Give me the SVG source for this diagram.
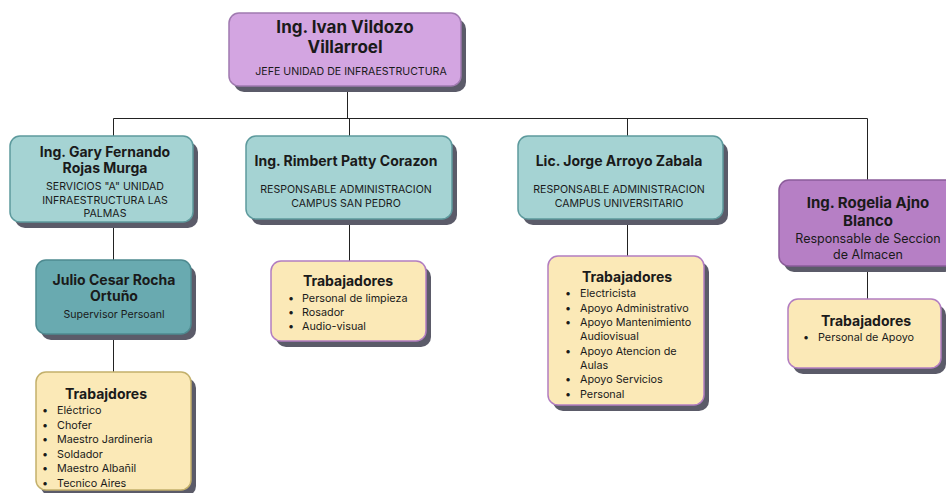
<svg xmlns="http://www.w3.org/2000/svg" width="946" height="493" viewBox="0 0 946 493">
  <style>
    text { font-family: Inter, "Noto Sans", "Liberation Sans", sans-serif; fill: #1a1a1a; }
    .shadow { fill: #5b5b69; }
    .head { fill: #d3a5e1; stroke: #a07ab0; stroke-width: 1.5; }
    .teal { fill: #a5d3d3; stroke: #5d9a9d; stroke-width: 1.5; }
    .tealdark { fill: #69aab0; stroke: #4e8a90; stroke-width: 1.5; }
    .purple { fill: #b67fc5; stroke: #8b5c9a; stroke-width: 1.5; }
    .note { fill: #fbe9b7; stroke: #b27dc1; stroke-width: 1.5; }
    .note-olive { fill: #fbe9b7; stroke: #c3b06b; stroke-width: 1.5; }
    .t1 { font-size: 17px; font-weight: 700; text-anchor: middle; }
    .t2 { font-size: 14px; font-weight: 700; text-anchor: middle; }
    .t3 { font-size: 15px; font-weight: 700; text-anchor: middle; }
    .sub { font-size: 10.6px; text-anchor: middle; }
    .sub2 { font-size: 12.5px; text-anchor: middle; }
    .item { font-size: 10.8px; }
    .conn { fill: none; stroke: #222; stroke-width: 1; }
  </style>

  <!-- connectors -->
  <g id="connectors" class="conn">
    <path d="M347.5 86 V118.5 M113.5 118.5 H867.5 M113.5 118.5 V136 M349.5 118.5 V136 M627.5 118.5 V136 M867.5 118.5 V180"/>
    <path d="M113.5 222 V260 M113.5 334 V372"/>
    <path d="M349.5 219 V261"/>
    <path d="M627.5 219 V256"/>
    <path d="M867.5 266 V299"/>
  </g>

  <!-- head of unit -->
  <g id="jefe">
    <rect class="shadow" x="234" y="19" width="232" height="73" rx="10"/>
    <rect class="head" x="229" y="13" width="232" height="73" rx="10"/>
    <text class="t1" x="345" y="33">Ing. Ivan Vildozo</text>
    <text class="t1" x="345" y="53">Villarroel</text>
    <text class="sub" x="351" y="75">JEFE UNIDAD DE INFRAESTRUCTURA</text>
  </g>

  <g id="gary">
    <rect class="shadow" x="15" y="142" width="183" height="86" rx="10"/>
    <rect class="teal" x="10" y="136" width="183" height="86" rx="10"/>
    <text class="t2" x="105" y="157">Ing. Gary Fernando</text>
    <text class="t2" x="105" y="173">Rojas Murga</text>
    <text class="sub" x="105" y="190">SERVICIOS "A" UNIDAD</text>
    <text class="sub" x="105" y="203.5">INFRAESTRUCTURA LAS</text>
    <text class="sub" x="105" y="217">PALMAS</text>
  </g>

  <g id="julio">
    <rect class="shadow" x="41" y="266" width="155" height="74" rx="10"/>
    <rect class="tealdark" x="36" y="260" width="155" height="74" rx="10"/>
    <text class="t2" x="114" y="285">Julio Cesar Rocha</text>
    <text class="t2" x="114" y="301">Ortuño</text>
    <text class="sub" x="114" y="318">Supervisor Persoanl</text>
  </g>

  <g id="trabajadores-palmas">
    <rect class="shadow" x="41" y="378" width="155" height="118" rx="10"/>
    <rect class="note-olive" x="36" y="372" width="155" height="118" rx="10"/>
    <text class="t2" x="106" y="399">Trabajdores</text>
    <g class="item">
      <text x="42" y="414">•</text><text x="57" y="414">Eléctrico</text>
      <text x="42" y="428.5">•</text><text x="57" y="428.5">Chofer</text>
      <text x="42" y="443">•</text><text x="57" y="443">Maestro Jardineria</text>
      <text x="42" y="457.5">•</text><text x="57" y="457.5">Soldador</text>
      <text x="42" y="472">•</text><text x="57" y="472">Maestro Albañil</text>
      <text x="42" y="486.5">•</text><text x="57" y="486.5">Tecnico Aires</text>
    </g>
  </g>

  <g id="rimbert">
    <rect class="shadow" x="251" y="142" width="206" height="83" rx="10"/>
    <rect class="teal" x="246" y="136" width="206" height="83" rx="10"/>
    <text class="t2" x="346" y="166">Ing. Rimbert Patty Corazon</text>
    <text class="sub" x="346" y="193">RESPONSABLE ADMINISTRACION</text>
    <text class="sub" x="346" y="207">CAMPUS SAN PEDRO</text>
  </g>

  <g id="trabajadores-san-pedro">
    <rect class="shadow" x="276" y="267" width="155" height="80" rx="10"/>
    <rect class="note" x="271" y="261" width="155" height="80" rx="10"/>
    <text class="t2" x="348" y="286">Trabajadores</text>
    <g class="item">
      <text x="288" y="302">•</text><text x="302" y="302">Personal de limpieza</text>
      <text x="288" y="316">•</text><text x="302" y="316">Rosador</text>
      <text x="288" y="330">•</text><text x="302" y="330">Audio-visual</text>
    </g>
  </g>

  <g id="jorge">
    <rect class="shadow" x="523" y="142" width="205" height="83" rx="10"/>
    <rect class="teal" x="518" y="136" width="205" height="83" rx="10"/>
    <text class="t2" x="619" y="166">Lic. Jorge Arroyo Zabala</text>
    <text class="sub" x="619" y="193">RESPONSABLE ADMINISTRACION</text>
    <text class="sub" x="619" y="207">CAMPUS UNIVERSITARIO</text>
  </g>

  <g id="trabajadores-universitario">
    <rect class="shadow" x="553" y="262" width="156" height="149" rx="10"/>
    <rect class="note" x="548" y="256" width="156" height="149" rx="10"/>
    <text class="t2" x="627" y="282">Trabajadores</text>
    <g class="item">
      <text x="565" y="297">•</text><text x="580" y="297">Electricista</text>
      <text x="565" y="311.5">•</text><text x="580" y="311.5">Apoyo Administrativo</text>
      <text x="565" y="326">•</text><text x="580" y="326">Apoyo Mantenimiento</text>
      <text x="580" y="340">Audiovisual</text>
      <text x="565" y="354.5">•</text><text x="580" y="354.5">Apoyo Atencion de</text>
      <text x="580" y="368.5">Aulas</text>
      <text x="565" y="383">•</text><text x="580" y="383">Apoyo Servicios</text>
      <text x="565" y="397.5">•</text><text x="580" y="397.5">Personal</text>
    </g>
  </g>

  <g id="rogelia">
    <rect class="shadow" x="784" y="186" width="170" height="86" rx="10"/>
    <rect class="purple" x="779" y="180" width="176" height="86" rx="10"/>
    <text class="t3" x="868" y="208">Ing. Rogelia Ajno</text>
    <text class="t3" x="868" y="226">Blanco</text>
    <text class="sub2" x="868" y="243">Responsable de Seccion</text>
    <text class="sub2" x="868" y="259">de Almacen</text>
  </g>

  <g id="trabajadores-almacen">
    <rect class="shadow" x="793" y="305" width="153" height="69" rx="10"/>
    <rect class="note" x="788" y="299" width="153" height="69" rx="10"/>
    <text class="t2" x="866" y="326">Trabajadores</text>
    <g class="item">
      <text x="803" y="341">•</text><text x="818" y="341">Personal de Apoyo</text>
    </g>
  </g>
</svg>
